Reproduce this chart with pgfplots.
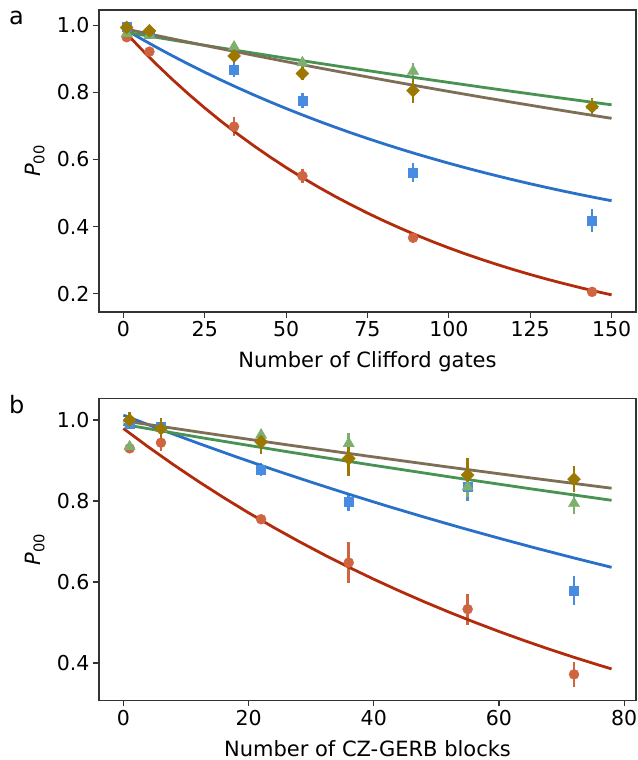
\documentclass[border=0pt]{standalone}
\usepackage{fontspec}
\setmainfont{DejaVu Sans}
\usepackage{pgfplots}
\pgfplotsset{compat=1.18}
\definecolor{cRedM}{RGB}{207,100,64}
\definecolor{cRedL}{RGB}{178,44,12}
\definecolor{cBlueM}{RGB}{72,140,226}
\definecolor{cBlueL}{RGB}{40,112,200}
\definecolor{cGreenM}{RGB}{125,176,110}
\definecolor{cGreenL}{RGB}{72,146,82}
\definecolor{cOliveM}{RGB}{156,120,0}
\definecolor{cBrownL}{RGB}{125,110,85}
\pgfplotsset{
  common/.style={
    scale only axis, width=537pt, height=302pt,
    tick align=outside, tick pos=left, major tick length=6pt,
    axis line style={line width=1.2pt, black!80},
    every tick/.style={black!80, line width=1.2pt},
    /pgf/number format/assume math mode=true,
    ticklabel style={font=\fontsize{20.5}{24}\selectfont},
    y tick label style={/pgf/number format/.cd, fixed, fixed zerofill, precision=1},
    x tick label style={/pgf/number format/.cd, fixed, precision=0},
    every axis x label/.style={at={(axis description cs:0.5,0)}, anchor=base, yshift=-56pt, font=\fontsize{21}{25}\selectfont},
    every axis y label/.style={at={(axis description cs:-0.1192,0.5)}, anchor=center, rotate=90, font=\fontsize{21}{25}\selectfont},
    ylabel={\textit{P}\textsubscript{00}},
    clip=false,
  },
  pts/.style 2 args={only marks, mark=#1, color=#2, mark options={draw=none, fill=#2},
    error bars/y dir=both, error bars/y explicit, error bars/error mark=none,
    error bars/error bar style={line width=2.6pt, color=#2}},
  fit/.style={no marks, line width=2.8pt, color=#1},
}
\begin{document}
\begin{tikzpicture}
\begin{axis}[common, at={(0pt,0pt)}, anchor=north west,
  xmin=-7.5, xmax=157.5, ymin=0.146, ymax=1.045,
  xtick={0,25,50,75,100,125,150}, ytick={0.2,0.4,0.6,0.8,1.0},
  xlabel={Number of Clifford gates}]
\addplot+[pts={*}{cRedM}, mark size=5pt] coordinates {
 (1,0.964) +- (0,0.01) (8,0.921) +- (0,0.01) (34,0.698) +- (0,0.027)
 (55,0.551) +- (0,0.02) (89,0.367) +- (0,0.015) (144,0.206) +- (0,0.01)};
\addplot+[pts={square*}{cBlueM}, mark size=4.5pt] coordinates {
 (1,0.995) +- (0,0.01) (8,0.975) +- (0,0.01) (34,0.866) +- (0,0.02)
 (55,0.775) +- (0,0.022) (89,0.561) +- (0,0.029) (144,0.418) +- (0,0.035)};
\addplot+[pts={triangle*}{cGreenM}, mark size=6.5pt] coordinates {
 (1,0.975) +- (0,0.01) (8,0.970) +- (0,0.01) (34,0.935) +- (0,0.015)
 (55,0.888) +- (0,0.015) (89,0.863) +- (0,0.025) (144,0.760) +- (0,0.02)};
\addplot+[pts={square*}{cOliveM}, mark size=4.6pt, mark options={rotate=45}] coordinates {
 (1,0.993) +- (0,0.01) (8,0.983) +- (0,0.01) (34,0.908) +- (0,0.02)
 (55,0.856) +- (0,0.02) (89,0.805) +- (0,0.036) (144,0.757) +- (0,0.025)};
\addplot[fit=cRedL] coordinates {
 (0,0.985) (5,0.9336) (10,0.8848) (15,0.8386) (20,0.7948) (25,0.7533) (30,0.7139)
 (35,0.6766) (40,0.6413) (45,0.6078) (50,0.5760) (55,0.5459) (60,0.5174) (65,0.4904)
 (70,0.4648) (75,0.4405) (80,0.4175) (85,0.3957) (90,0.3750) (95,0.3554) (100,0.3368)
 (105,0.3192) (110,0.3026) (115,0.2868) (120,0.2718) (125,0.2576) (130,0.2441)
 (135,0.2314) (140,0.2193) (145,0.2078) (150,0.1970)};
\addplot[fit=cBlueL] coordinates {
 (0,0.990) (5,0.9619) (10,0.9349) (15,0.9089) (20,0.8838) (25,0.8597) (30,0.8364)
 (35,0.8141) (40,0.7925) (45,0.7718) (50,0.7518) (55,0.7326) (60,0.7141) (65,0.6963)
 (70,0.6791) (75,0.6626) (80,0.6467) (85,0.6314) (90,0.6166) (95,0.6025) (100,0.5888)
 (105,0.5756) (110,0.5630) (115,0.5508) (120,0.5390) (125,0.5277) (130,0.5168)
 (135,0.5063) (140,0.4962) (145,0.4865) (150,0.4772)};
\addplot[fit=cGreenL] coordinates {
 (0,0.980) (10,0.9638) (20,0.9478) (30,0.9321) (40,0.9167) (50,0.9015) (60,0.8866)
 (70,0.8719) (80,0.8574) (90,0.8432) (100,0.8293) (110,0.8155) (120,0.8020)
 (130,0.7887) (140,0.7757) (150,0.7628)};
\addplot[fit=cBrownL] coordinates {
 (0,0.990) (10,0.9694) (20,0.9493) (30,0.9296) (40,0.9102) (50,0.8913) (60,0.8728)
 (70,0.8547) (80,0.8369) (90,0.8195) (100,0.8025) (110,0.7858) (120,0.7695)
 (130,0.7535) (140,0.7378) (150,0.7225)};
\end{axis}
\begin{axis}[common, at={(0pt,-388.3pt)}, anchor=north west,
  xmin=-3.9, xmax=81.9, ymin=0.308, ymax=1.0536,
  xtick={0,20,40,60,80}, ytick={0.4,0.6,0.8,1.0},
  xlabel={Number of CZ-GERB blocks}]
\addplot+[pts={*}{cRedM}, mark size=5pt] coordinates {
 (1,0.930) +- (0,0.012) (6,0.944) +- (0,0.02) (22,0.755) +- (0,0.01)
 (36,0.648) +- (0,0.05) (55,0.533) +- (0,0.038) (72,0.372) +- (0,0.031)};
\addplot+[pts={square*}{cBlueM}, mark size=4.5pt] coordinates {
 (1,0.992) +- (0,0.01) (6,0.984) +- (0,0.01) (22,0.877) +- (0,0.016)
 (36,0.798) +- (0,0.023) (55,0.835) +- (0,0.035) (72,0.579) +- (0,0.035)};
\addplot+[pts={triangle*}{cGreenM}, mark size=6.5pt] coordinates {
 (1,0.934) +- (0,0.012) (6,0.980) +- (0,0.015) (22,0.963) +- (0,0.015)
 (36,0.942) +- (0,0.025) (55,0.835) +- (0,0.025) (72,0.794) +- (0,0.025)};
\addplot+[pts={square*}{cOliveM}, mark size=4.6pt, mark options={rotate=45}] coordinates {
 (1,1.000) +- (0,0.02) (6,0.979) +- (0,0.025) (22,0.946) +- (0,0.03)
 (36,0.905) +- (0,0.043) (55,0.864) +- (0,0.041) (72,0.854) +- (0,0.032)};
\addplot[fit=cRedL] coordinates {
 (0,0.979) (4,0.9333) (8,0.8897) (12,0.8482) (16,0.8086) (20,0.7709) (24,0.7349)
 (28,0.7006) (32,0.6679) (36,0.6367) (40,0.6070) (44,0.5787) (48,0.5517) (52,0.5259)
 (56,0.5014) (60,0.4780) (64,0.4557) (68,0.4344) (72,0.4141) (76,0.3948) (78,0.3855)};
\addplot[fit=cBlueL] coordinates {
 (0,1.012) (6,0.9765) (12,0.9423) (18,0.9092) (24,0.8773) (30,0.8466) (36,0.8169)
 (42,0.7882) (48,0.7606) (54,0.7339) (60,0.7082) (66,0.6833) (72,0.6594) (78,0.6363)};
\addplot[fit=cGreenL] coordinates {
 (0,0.989) (13,0.9550) (26,0.9222) (39,0.8905) (52,0.8599) (65,0.8303) (78,0.8018)};
\addplot[fit=cBrownL] coordinates {
 (0,0.998) (13,0.9681) (26,0.9391) (39,0.9110) (52,0.8837) (65,0.8572) (78,0.8316)};
\end{axis}
\node[anchor=base west, inner sep=0pt, font=\fontsize{24}{28}\selectfont] at (-90pt,-15pt) {a};
\node[anchor=base west, inner sep=0pt, font=\fontsize{24}{28}\selectfont] at (-90pt,-403pt) {b};
\pgfresetboundingbox
\path[use as bounding box] (-99pt,10pt) rectangle (538pt,-750pt);
\end{tikzpicture}
\end{document}
